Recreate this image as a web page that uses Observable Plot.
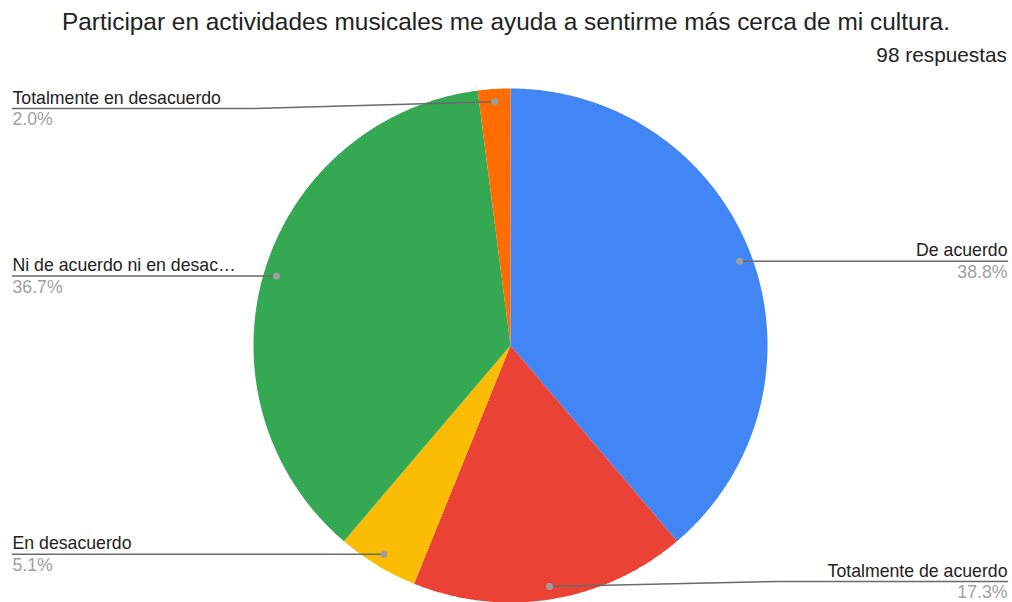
<!DOCTYPE html>
<html><head><meta charset="utf-8">
<script src="https://cdn.jsdelivr.net/npm/d3@7"></script>
<script src="https://cdn.jsdelivr.net/npm/@observablehq/plot@0.6"></script>
<style>
body{margin:0;background:#fff;font-family:"Liberation Sans", Arial, sans-serif}
#wrap{position:relative;width:1012px;height:602px;overflow:hidden}
#title{position:absolute;top:8px;left:0;width:1012px;text-align:center;font-size:24.4px;color:#222;white-space:nowrap;line-height:28px}
#sub{position:absolute;top:43px;right:5px;font-size:20.8px;color:#222;line-height:24px}
svg{position:absolute;left:0;top:0}
</style></head><body>
<div id="wrap"></div>
<script>
const title = "Participar en actividades musicales me ayuda a sentirme más cerca de mi cultura.";
const subtitle = "98 respuestas";
const categories = ["De acuerdo", "Totalmente de acuerdo", "En desacuerdo", "Ni de acuerdo ni en desacuerdo", "Totalmente en desacuerdo"];
const counts = [38, 17, 5, 36, 2];
const colors = ["#4285F4", "#EA4335", "#FBBC04", "#34A853", "#FF6D01"];

const W = 1012, H = 602, cx = 510, cy = 345, R = 257;
const total = d3.sum(counts);
const arcs = d3.pie().sort(null).value(d => d)(counts);

// slice polygons in unit coordinates (angle 0 at top, clockwise)
const slicePts = [];
arcs.forEach((a, i) => {
  const cat = categories[i];
  slicePts.push({cat, x: 0, y: 0});
  const n = Math.max(2, Math.ceil((a.endAngle - a.startAngle) / 0.01));
  for (let k = 0; k <= n; k++) {
    const t = a.startAngle + (a.endAngle - a.startAngle) * k / n;
    slicePts.push({cat, x: Math.sin(t), y: Math.cos(t)});
  }
  slicePts.push({cat, x: 0, y: 0});
});

const toUnitY = py => (cy - py) / R;
const toUnitX = px => (px - cx) / R;
const yTop = toUnitY(108), yBot = toUnitY(581);
const leftEdge = toUnitX(12), rightEdge = toUnitX(W - 5);

const labels = arcs.map((a, i) => {
  const m = (a.startAngle + a.endAngle) / 2;
  const px = 0.95 * Math.sin(m), py = 0.95 * Math.cos(m);
  const ly = Math.min(yTop, Math.max(yBot, py));
  const name = categories[i].length > 25 ? categories[i].slice(0, 25) + "…" : categories[i];
  return {cat: categories[i], name, pct: (counts[i] / total * 100).toFixed(1) + "%", px, py, ly, right: px > 0};
});

const leaderPts = [];
labels.forEach(l => {
  const edge = l.right ? rightEdge : leftEdge;
  leaderPts.push({cat: l.cat, x: l.px, y: l.py});
  leaderPts.push({cat: l.cat, x: (l.px + edge) / 2, y: l.ly});
  leaderPts.push({cat: l.cat, x: edge, y: l.ly});
});

const font = "'Liberation Sans', Arial, sans-serif";
const fs = 17.7;
const chart = Plot.plot({
  width: W, height: H,
  marginTop: 0, marginBottom: 0, marginLeft: 12, marginRight: 5,
  x: {domain: [-1, 1], range: [cx - R, cx + R], axis: null},
  y: {domain: [-1, 1], range: [cy + R, cy - R], axis: null},
  color: {domain: categories, range: colors},
  style: {fontFamily: font, background: "white"},
  marks: [
    Plot.line(slicePts, {x: "x", y: "y", z: "cat", fill: "cat", stroke: "none"}),
    Plot.line(leaderPts, {x: "x", y: "y", z: "cat", stroke: "#6a6a6a", strokeWidth: 1.5}),
    Plot.dot(labels, {x: "px", y: "py", r: 3.5, fill: "#9e9e9e", stroke: "none"}),
    Plot.text(labels.filter(d => !d.right), {y: "ly", text: "name", frameAnchor: "left", textAnchor: "start", lineAnchor: "bottom", dy: -5, fontSize: fs, fill: "#222"}),
    Plot.text(labels.filter(d => !d.right), {y: "ly", text: "pct", frameAnchor: "left", textAnchor: "start", lineAnchor: "top", dy: 4, fontSize: fs, fill: "#a0a0a0"}),
    Plot.text(labels.filter(d => d.right), {y: "ly", text: "name", frameAnchor: "right", textAnchor: "end", lineAnchor: "bottom", dy: -5, fontSize: fs, fill: "#222"}),
    Plot.text(labels.filter(d => d.right), {y: "ly", text: "pct", frameAnchor: "right", textAnchor: "end", lineAnchor: "top", dy: 4, fontSize: fs, fill: "#a0a0a0"})
  ]
});
const wrap = document.getElementById("wrap");
wrap.appendChild(chart);
const t = document.createElement("div"); t.id = "title"; t.textContent = title; wrap.appendChild(t);
const s = document.createElement("div"); s.id = "sub"; s.textContent = subtitle; wrap.appendChild(s);
</script>
</body></html>
